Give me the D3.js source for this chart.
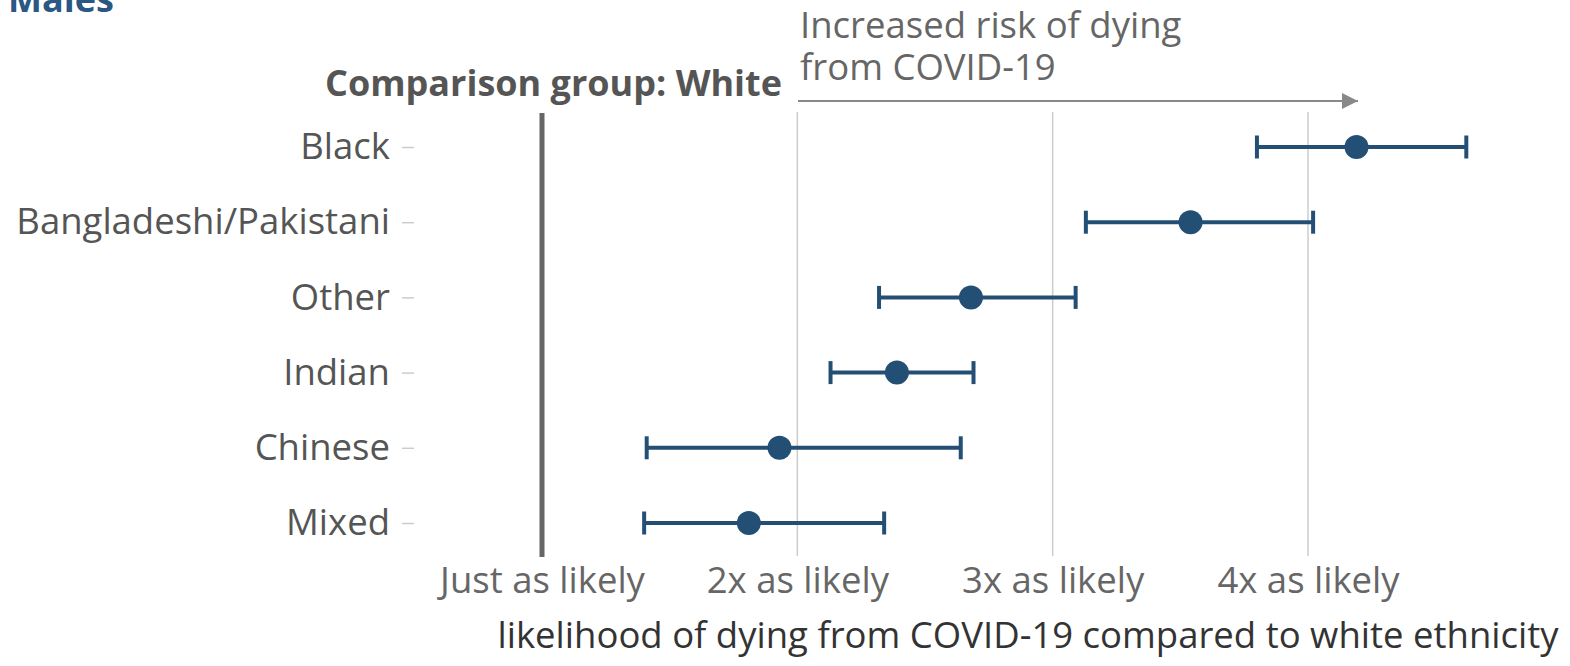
<!DOCTYPE html>
<html>
<head>
<meta charset="utf-8">
<script src="https://cdn.jsdelivr.net/npm/d3@7"></script>
<style>
  body { margin: 0; background: #fff; }
  svg { font-family: "Open Sans", sans-serif; display: block; }
</style>
</head>
<body>
<svg id="drawing_region"></svg>
<script>
// ethnic groups, top to bottom
const groups = ["Black", "Bangladeshi/Pakistani", "Other", "Indian", "Chinese", "Mixed"];
const estimates = [4.19, 3.54, 2.68, 2.39, 1.93, 1.81];
const lower = [3.80, 3.13, 2.32, 2.13, 1.41, 1.40];
const upper = [4.62, 4.02, 3.09, 2.69, 2.64, 2.34];
const tickValues = [1, 2, 3, 4];
const tickLabels = ["Just as likely", "2x as likely", "3x as likely", "4x as likely"];

const width = 1570, height = 666;
const fontSize = '36.5px';

const svg = d3.select('#drawing_region')
    .attr('width', width)
    .attr('height', height);

const xscale = d3.scaleLinear()
    .domain([1, 4])
    .range([542, 1308]);

const yscale = d3.scalePoint()
    .domain(groups)
    .range([147, 523]);

const blue = '#244f75';

// title (cut off at the top, as in the original)
svg.append('text')
    .attr('x', 8)
    .attr('y', 12)
    .attr('fill', '#2a5783')
    .attr('font-size', '36px')
    .attr('font-weight', 'bold')
    .text('Males');

// grid lines
svg.append('g')
    .selectAll('line')
    .data(tickValues.slice(1))
    .join('line')
    .attr('x1', d => xscale(d))
    .attr('x2', d => xscale(d))
    .attr('y1', 112)
    .attr('y2', 556)
    .attr('stroke', '#cccccc')
    .attr('stroke-width', 1.5);

// reference line at 1
svg.append('line')
    .attr('x1', xscale(1))
    .attr('x2', xscale(1))
    .attr('y1', 113)
    .attr('y2', 557)
    .attr('stroke', '#666666')
    .attr('stroke-width', 5);

// x axis
const xaxis = d3.axisBottom(xscale)
    .tickValues(tickValues)
    .tickFormat((d, i) => tickLabels[i])
    .tickSize(0)
    .tickPadding(10);

const xaxis_group = svg.append('g')
    .attr('transform', 'translate(0, 557)')
    .call(xaxis);
xaxis_group.select('.domain').remove();
xaxis_group.selectAll('text')
    .attr('font-family', '"Open Sans", sans-serif')
    .attr('font-size', fontSize)
    .attr('fill', '#666666');

svg.append('text')
    .attr('x', 1028)
    .attr('y', 648)
    .attr('text-anchor', 'middle')
    .attr('font-size', fontSize)
    .attr('fill', '#333333')
    .text('likelihood of dying from COVID-19 compared to white ethnicity');

// y axis
const yaxis = d3.axisLeft(yscale)
    .tickSize(12)
    .tickPadding(12);

const yaxis_group = svg.append('g')
    .attr('transform', 'translate(414, 0)')
    .call(yaxis);
yaxis_group.select('.domain').remove();
yaxis_group.selectAll('line')
    .attr('stroke', '#cccccc')
    .attr('stroke-width', 1.5);
yaxis_group.selectAll('text')
    .attr('font-family', '"Open Sans", sans-serif')
    .attr('font-size', fontSize)
    .attr('fill', '#555555');

// comparison label
svg.append('text')
    .attr('x', 782)
    .attr('y', 96)
    .attr('text-anchor', 'end')
    .attr('font-size', '36px')
    .attr('font-weight', 'bold')
    .attr('fill', '#555555')
    .text('Comparison group: White');

// arrow annotation
svg.append('defs').append('marker')
    .attr('id', 'arrow')
    .attr('viewBox', '0 0 10 10')
    .attr('refX', 10)
    .attr('refY', 5)
    .attr('markerWidth', 26)
    .attr('markerHeight', 16)
    .attr('markerUnits', 'userSpaceOnUse')
    .attr('orient', 'auto')
    .append('path')
    .attr('d', 'M0,0 L10,5 L0,10 z')
    .attr('fill', '#888888');

svg.append('line')
    .attr('x1', 798)
    .attr('x2', 1358)
    .attr('y1', 101)
    .attr('y2', 101)
    .attr('stroke', '#888888')
    .attr('stroke-width', 2)
    .attr('marker-end', 'url(#arrow)');

const note = svg.append('text')
    .attr('x', 800)
    .attr('font-size', fontSize)
    .attr('fill', '#666666');
note.append('tspan').attr('x', 800).attr('y', 38).text('Increased risk of dying');
note.append('tspan').attr('x', 800).attr('y', 80).text('from COVID-19');

// error bars and points
const rows = groups.map((g, i) => ({g: g, est: estimates[i], lo: lower[i], hi: upper[i]}));

const marks = svg.append('g')
    .selectAll('g')
    .data(rows)
    .join('g')
    .attr('transform', d => `translate(0, ${yscale(d.g)})`);

marks.append('line')
    .attr('x1', d => xscale(d.lo))
    .attr('x2', d => xscale(d.hi))
    .attr('stroke', blue)
    .attr('stroke-width', 4);

marks.selectAll('.cap')
    .data(d => [d.lo, d.hi])
    .join('line')
    .attr('class', 'cap')
    .attr('x1', d => xscale(d))
    .attr('x2', d => xscale(d))
    .attr('y1', -11.5)
    .attr('y2', 11.5)
    .attr('stroke', blue)
    .attr('stroke-width', 4);

marks.append('circle')
    .attr('cx', d => xscale(d.est))
    .attr('r', 12)
    .attr('fill', blue);
</script>
</body>
</html>
